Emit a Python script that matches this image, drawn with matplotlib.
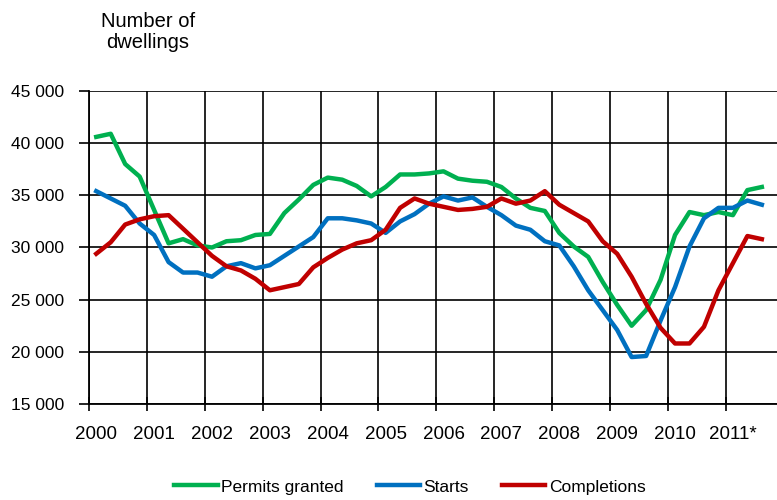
import matplotlib.pyplot as plt
import numpy as np
from matplotlib.ticker import FixedLocator, FuncFormatter

plt.rcParams['font.family'] = ['Liberation Sans', 'DejaVu Sans']
plt.rcParams['font.size'] = 12.5

years = ["2000", "2001", "2002", "2003", "2004", "2005",
         "2006", "2007", "2008", "2009", "2010", "2011*"]

# quarterly values, 2000 Q1 - 2011 Q3
permits = [40600, 40900, 38000, 36800, 33600, 30400, 30800, 30200,
           30000, 30600, 30700, 31200, 31300, 33300, 34600, 36000,
           36700, 36500, 35900, 34900, 35800, 37000, 37000, 37100,
           37300, 36600, 36400, 36300, 35800, 34700, 33800, 33500,
           31400, 30100, 29100, 26700, 24500, 22500, 24000, 26900,
           31200, 33400, 33100, 33400, 33100, 35500, 35800]
starts = [35400, 34700, 34000, 32300, 31200, 28600, 27600, 27600,
          27200, 28200, 28500, 28000, 28300, 29200, 30100, 31000,
          32800, 32800, 32600, 32300, 31400, 32500, 33200, 34200,
          34900, 34500, 34800, 33900, 33100, 32100, 31700, 30600,
          30200, 28200, 25900, 24000, 22100, 19500, 19600, 23000,
          26200, 30100, 32800, 33800, 33800, 34500, 34100]
completions = [29400, 30500, 32200, 32700, 33000, 33100, 31800, 30500,
               29200, 28200, 27800, 27000, 25900, 26200, 26500, 28100,
               29000, 29800, 30400, 30700, 31700, 33800, 34700, 34200,
               33900, 33600, 33700, 33900, 34700, 34200, 34500, 35400,
               34100, 33300, 32500, 30600, 29400, 27200, 24600, 22300,
               20800, 20800, 22400, 25900, 28500, 31100, 30800]

x = np.arange(len(permits)) + 0.5

fig = plt.figure(figsize=(7.77, 5.0), dpi=100)
ax = fig.add_axes([89 / 777, 1 - 404 / 500, 1 - 89 / 777, 313 / 500])

ax.plot(x, permits, color='#00B050', lw=3.2, label='Permits granted', solid_joinstyle='round')
ax.plot(x, starts, color='#0070C0', lw=3.2, label='Starts', solid_joinstyle='round')
ax.plot(x, completions, color='#C00000', lw=3.2, label='Completions', solid_joinstyle='round')

ax.set_xlim(0, (777 - 89) / 14.47)
ax.set_ylim(15000, 45000)
ax.set_yticks(np.arange(15000, 45001, 5000))
ax.yaxis.set_major_formatter(FuncFormatter(lambda v, p: f"{int(v):,}".replace(",", " ")))

ax.xaxis.set_major_locator(FixedLocator(np.arange(0, 48, 4)))
ax.xaxis.set_minor_locator(FixedLocator(np.arange(0, 48, 4) + 0.5))
ax.set_xticklabels([], minor=False)
ax.set_xticklabels(years, minor=True, fontsize=13.5)
ax.tick_params(axis='x', which='major', direction='inout', length=10, width=1.2, color='black')
ax.tick_params(axis='x', which='minor', length=0, pad=16)
ax.tick_params(axis='y', direction='out', length=7, width=1.2, pad=11)

ax.grid(True, which='major', color='black', lw=1.2)
ax.set_axisbelow(True)
for s in ['top', 'right']:
    ax.spines[s].set_visible(False)
for s in ['left', 'bottom']:
    ax.spines[s].set_linewidth(1.3)
    ax.spines[s].set_color('black')

fig.text(148 / 777, 1 - 32 / 500, "Number of\ndwellings", ha='center', va='center',
         fontsize=14.5, linespacing=1.15)

fig.legend(loc='center', bbox_to_anchor=(410 / 777, 1 - 487 / 500), ncol=3, frameon=False,
           handlelength=2.5, handletextpad=0.2, columnspacing=1.9)

fig.savefig("out.png", dpi=100)
